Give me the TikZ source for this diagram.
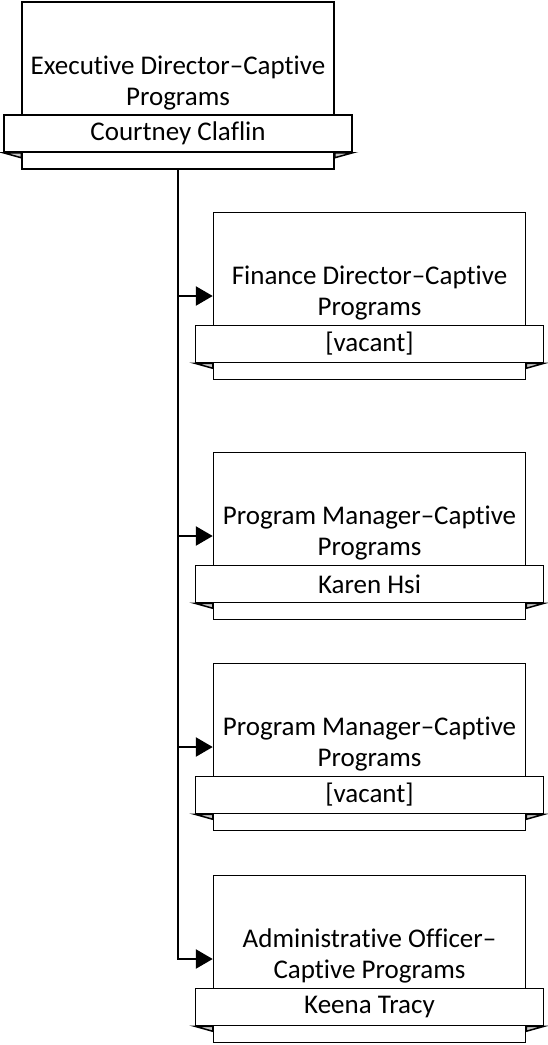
\documentclass[tikz,border=0pt]{standalone}
\usepackage{fontspec}
\setmainfont{Carlito}[Ligatures=NoCommon]
\usetikzlibrary{arrows.meta}
\usetikzlibrary{positioning}

\begin{document}
\begin{tikzpicture}[x=1pt,y=-1pt,
  posbox/.style={draw,line width=1.5pt,minimum width=312pt,minimum height=167pt,inner sep=0pt},
  namebar/.style={draw,fill=white,line width=1.5pt,minimum width=348pt,minimum height=37pt,inner sep=0pt,font=\fontsize{27}{31}\selectfont},
  title/.style={anchor=south,align=center,inner sep=0pt,font=\fontsize{27}{31}\selectfont},
  fold/.style={draw,fill=black!22,line width=1.5pt},
  link/.style={line width=2.6pt,-{Triangle[length=17pt,width=19pt]}}]
\useasboundingbox (0,0) rectangle (547,1045);
% executive
\node[posbox] (exec) at (178,85.5) {};
\node[namebar,below=113pt of exec.north,anchor=north] (execbar) {Courtney Claflin};
\node[title,above=4pt of execbar] (exectitle) {Executive Director--Captive\\Programs};
% finance
\node[posbox] (fin) at (369.5,296) {};
\node[namebar,below=113pt of fin.north,anchor=north] (finbar) {[vacant]};
\node[title,above=4pt of finbar] (fintitle) {Finance Director--Captive\\Programs};
% program managers
\node[posbox] (pmone) at (369.5,536) {};
\node[namebar,below=113pt of pmone.north,anchor=north] (pmonebar) {Karen Hsi};
\node[title,above=4pt of pmonebar] (pmonetitle) {Program Manager--Captive\\Programs};
\node[posbox] (pmtwo) at (369.5,747) {};
\node[namebar,below=113pt of pmtwo.north,anchor=north] (pmtwobar) {[vacant]};
\node[title,above=4pt of pmtwobar] (pmtwotitle) {Program Manager--Captive\\Programs};
% admin
\node[posbox] (admin) at (369.5,959) {};
\node[namebar,below=113pt of admin.north,anchor=north] (adminbar) {Keena Tracy};
\node[title,above=4pt of adminbar] (admintitle) {Administrative Officer--\\Captive Programs};
% banner folds
\filldraw[fold] (execbar.south west) -- ++(18,5) -- ++(0,-5) -- cycle;
\filldraw[fold] (execbar.south east) -- ++(-18,5) -- ++(0,-5) -- cycle;
\filldraw[fold] (finbar.south west) -- ++(18,5) -- ++(0,-5) -- cycle;
\filldraw[fold] (finbar.south east) -- ++(-18,5) -- ++(0,-5) -- cycle;
\filldraw[fold] (pmonebar.south west) -- ++(18,5) -- ++(0,-5) -- cycle;
\filldraw[fold] (pmonebar.south east) -- ++(-18,5) -- ++(0,-5) -- cycle;
\filldraw[fold] (pmtwobar.south west) -- ++(18,5) -- ++(0,-5) -- cycle;
\filldraw[fold] (pmtwobar.south east) -- ++(-18,5) -- ++(0,-5) -- cycle;
\filldraw[fold] (adminbar.south west) -- ++(18,5) -- ++(0,-5) -- cycle;
\filldraw[fold] (adminbar.south east) -- ++(-18,5) -- ++(0,-5) -- cycle;
% reporting lines
\draw[link] (exec.south) |- (fin.west);
\draw[link] (exec.south) |- (pmone.west);
\draw[link] (exec.south) |- (pmtwo.west);
\draw[link] (exec.south) |- (admin.west);
\end{tikzpicture}
\end{document}
